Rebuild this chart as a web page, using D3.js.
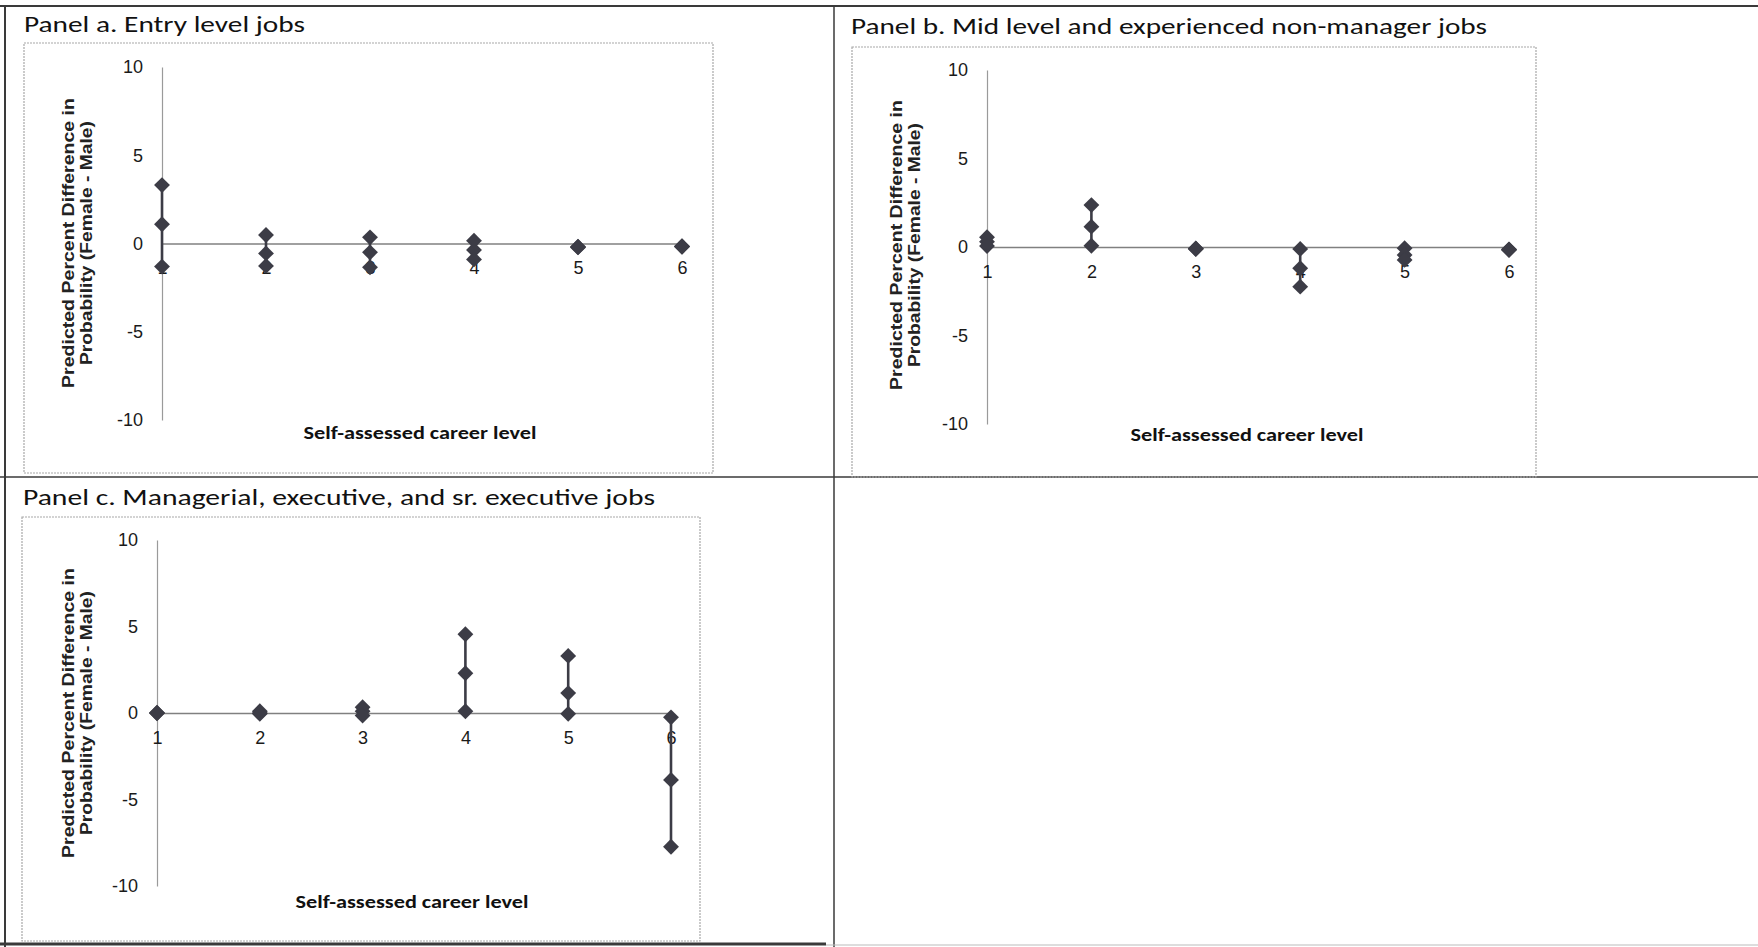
<!DOCTYPE html>
<html>
<head>
<meta charset="utf-8">
<script src="https://cdn.jsdelivr.net/npm/d3@7"></script>
<style>
  html, body { margin: 0; padding: 0; background: #fff; }
  svg { display: block; }
  .tick text { font-family: "Liberation Sans Narrow", "Liberation Sans", Arial, sans-serif; }
</style>
</head>
<body>
<svg id="chart" width="1758" height="947"></svg>
<script>
// ---------------- data ----------------
const levels = [1, 2, 3, 4, 5, 6];
const yTicks = [-10, -5, 0, 5, 10];
const panelTitles = [
  "Panel a. Entry level jobs",
  "Panel b. Mid level and experienced non-manager jobs",
  "Panel c. Managerial, executive, and sr. executive jobs"
];
const xAxisTitle = "Self-assessed career level";
const yAxisTitle1 = "Predicted Percent Difference in";
const yAxisTitle2 = "Probability (Female - Male)";

// Panel a
const aUpper = [3.31, 0.48, 0.35, 0.16, -0.18, -0.15];
const aMid   = [1.09, -0.56, -0.50, -0.37, -0.20, -0.17];
const aLower = [-1.31, -1.27, -1.35, -0.90, -0.22, -0.19];
// Panel b
const bUpper = [0.55, 2.37, -0.08, -0.11, -0.07, -0.13];
const bMid   = [0.30, 1.15, -0.10, -1.20, -0.45, -0.15];
const bLower = [0.05, 0.07, -0.12, -2.24, -0.73, -0.17];
// Panel c
const cUpper = [0.02, 0.10, 0.33, 4.55, 3.30, -0.25];
const cMid   = [0.00, 0.00, 0.10, 2.30, 1.15, -3.87];
const cLower = [-0.02, -0.05, -0.15, 0.10, -0.05, -7.73];

// ---------------- layout ----------------
const panels = [
  { title: panelTitles[0], series: [aUpper, aMid, aLower],
    titleX: 24, titleY: 32, titleLen: 281,
    box: [24, 43, 713, 473],
    x0: 162, x1: 682, yTop: 67, yBot: 420,
    yt1: 70, yt2: 88, ytc: 243, xtX: 420, xtY: 435 },
  { title: panelTitles[1], series: [bUpper, bMid, bLower],
    titleX: 851, titleY: 34, titleLen: 636,
    box: [852, 47, 1536, 477],
    x0: 987, x1: 1509, yTop: 70, yBot: 424,
    yt1: 898, yt2: 916, ytc: 245, xtX: 1247, xtY: 437 },
  { title: panelTitles[2], series: [cUpper, cMid, cLower],
    titleX: 23, titleY: 505, titleLen: 632,
    box: [22, 517, 700, 941],
    x0: 157, x1: 671, yTop: 540, yBot: 886,
    yt1: 70, yt2: 88, ytc: 713, xtX: 412, xtY: 904 }
];

const markColor = "#3c3c46";
const svg = d3.select("#chart");
svg.append("rect").attr("width", 1758).attr("height", 947).attr("fill", "#fff");

// table frame
const frame = svg.append("g").attr("stroke", "#3a3a3a").attr("fill", "none");
frame.append("line").attr("x1", 0).attr("y1", 6).attr("x2", 1758).attr("y2", 6).attr("stroke-width", 2);
frame.append("line").attr("x1", 5).attr("y1", 6).attr("x2", 5).attr("y2", 947).attr("stroke-width", 2);
frame.append("line").attr("x1", 834).attr("y1", 6).attr("x2", 834).attr("y2", 947).attr("stroke-width", 1.5);
frame.append("line").attr("x1", 0).attr("y1", 477).attr("x2", 1758).attr("y2", 477).attr("stroke-width", 1.5);
frame.append("line").attr("x1", 0).attr("y1", 944).attr("x2", 826).attr("y2", 944).attr("stroke-width", 3);
frame.append("line").attr("x1", 826).attr("y1", 945).attr("x2", 1758).attr("y2", 945).attr("stroke-width", 1).attr("stroke", "#bbb");

const diamond = d3.symbol().type(d3.symbolDiamond2).size(160);
const fmt = d => String(d);

panels.forEach(p => {
  const g = svg.append("g");

  // chart box
  g.append("rect")
    .attr("x", p.box[0]).attr("y", p.box[1])
    .attr("width", p.box[2] - p.box[0]).attr("height", p.box[3] - p.box[1])
    .attr("fill", "none").attr("stroke", "#a8a8a8").attr("stroke-width", 1.2)
    .attr("stroke-dasharray", "2,1");

  // panel title
  g.append("text")
    .attr("x", p.titleX).attr("y", p.titleY)
    .attr("font-family", "Carlito, 'Liberation Sans Narrow', 'Liberation Sans', sans-serif")
    .attr("font-size", 23)
    .attr("fill", "#111")
    .attr("textLength", p.titleLen).attr("lengthAdjust", "spacingAndGlyphs")
    .text(p.title);

  const x = d3.scaleLinear().domain([1, 6]).range([p.x0, p.x1]);
  const y = d3.scaleLinear().domain([-10, 10]).range([p.yBot, p.yTop]);

  // y axis
  const ya = g.append("g").attr("transform", `translate(${x(1)},0)`)
    .call(d3.axisLeft(y).tickValues(yTicks).tickSize(0).tickPadding(19).tickFormat(fmt));
  ya.select(".domain").attr("stroke", "#9a9a9a").attr("stroke-width", 1.2);
  ya.selectAll("text").attr("font-size", 18).attr("fill", "#1a1a1a");

  // x axis at zero
  const xa = g.append("g").attr("transform", `translate(0,${y(0)})`)
    .call(d3.axisBottom(x).tickValues(levels).tickSize(0).tickPadding(18).tickFormat(fmt));
  xa.select(".domain").attr("stroke", "#808080").attr("stroke-width", 1.6);
  xa.selectAll("text").attr("font-size", 18).attr("fill", "#1a1a1a");

  // axis titles
  g.append("text")
    .attr("x", p.xtX).attr("y", p.xtY)
    .attr("text-anchor", "middle").attr("dominant-baseline", "middle")
    .attr("font-family", "Carlito, 'Liberation Sans Narrow', 'Liberation Sans', sans-serif")
    .attr("font-weight", "bold").attr("font-size", 18).attr("fill", "#111")
    .attr("textLength", 233).attr("lengthAdjust", "spacingAndGlyphs")
    .text(xAxisTitle);

  [[yAxisTitle1, p.yt1, 290], [yAxisTitle2, p.yt2, 244]].forEach(([t, cx, len]) => {
    g.append("text")
      .attr("transform", `translate(${cx},${p.ytc}) rotate(-90)`)
      .attr("text-anchor", "middle").attr("dominant-baseline", "middle")
      .attr("font-family", "'Liberation Sans', Arial, sans-serif")
      .attr("font-weight", "bold").attr("font-size", 16).attr("fill", "#222")
      .attr("textLength", len).attr("lengthAdjust", "spacingAndGlyphs")
      .text(t);
  });

  // vertical connecting lines (range per level)
  const ranges = levels.map((lv, i) => {
    const vals = p.series.map(s => s[i]);
    return { lv, lo: d3.min(vals), hi: d3.max(vals) };
  });
  g.append("g").selectAll("line").data(ranges).join("line")
    .attr("x1", d => x(d.lv)).attr("x2", d => x(d.lv))
    .attr("y1", d => y(d.hi)).attr("y2", d => y(d.lo))
    .attr("stroke", markColor).attr("stroke-width", 2.6);

  // markers
  p.series.forEach(s => {
    g.append("g").selectAll("path").data(levels.map((lv, i) => ({ lv, v: s[i] }))).join("path")
      .attr("d", diamond)
      .attr("transform", d => `translate(${x(d.lv)},${y(d.v)})`)
      .attr("fill", markColor);
  });
});
</script>
</body>
</html>
